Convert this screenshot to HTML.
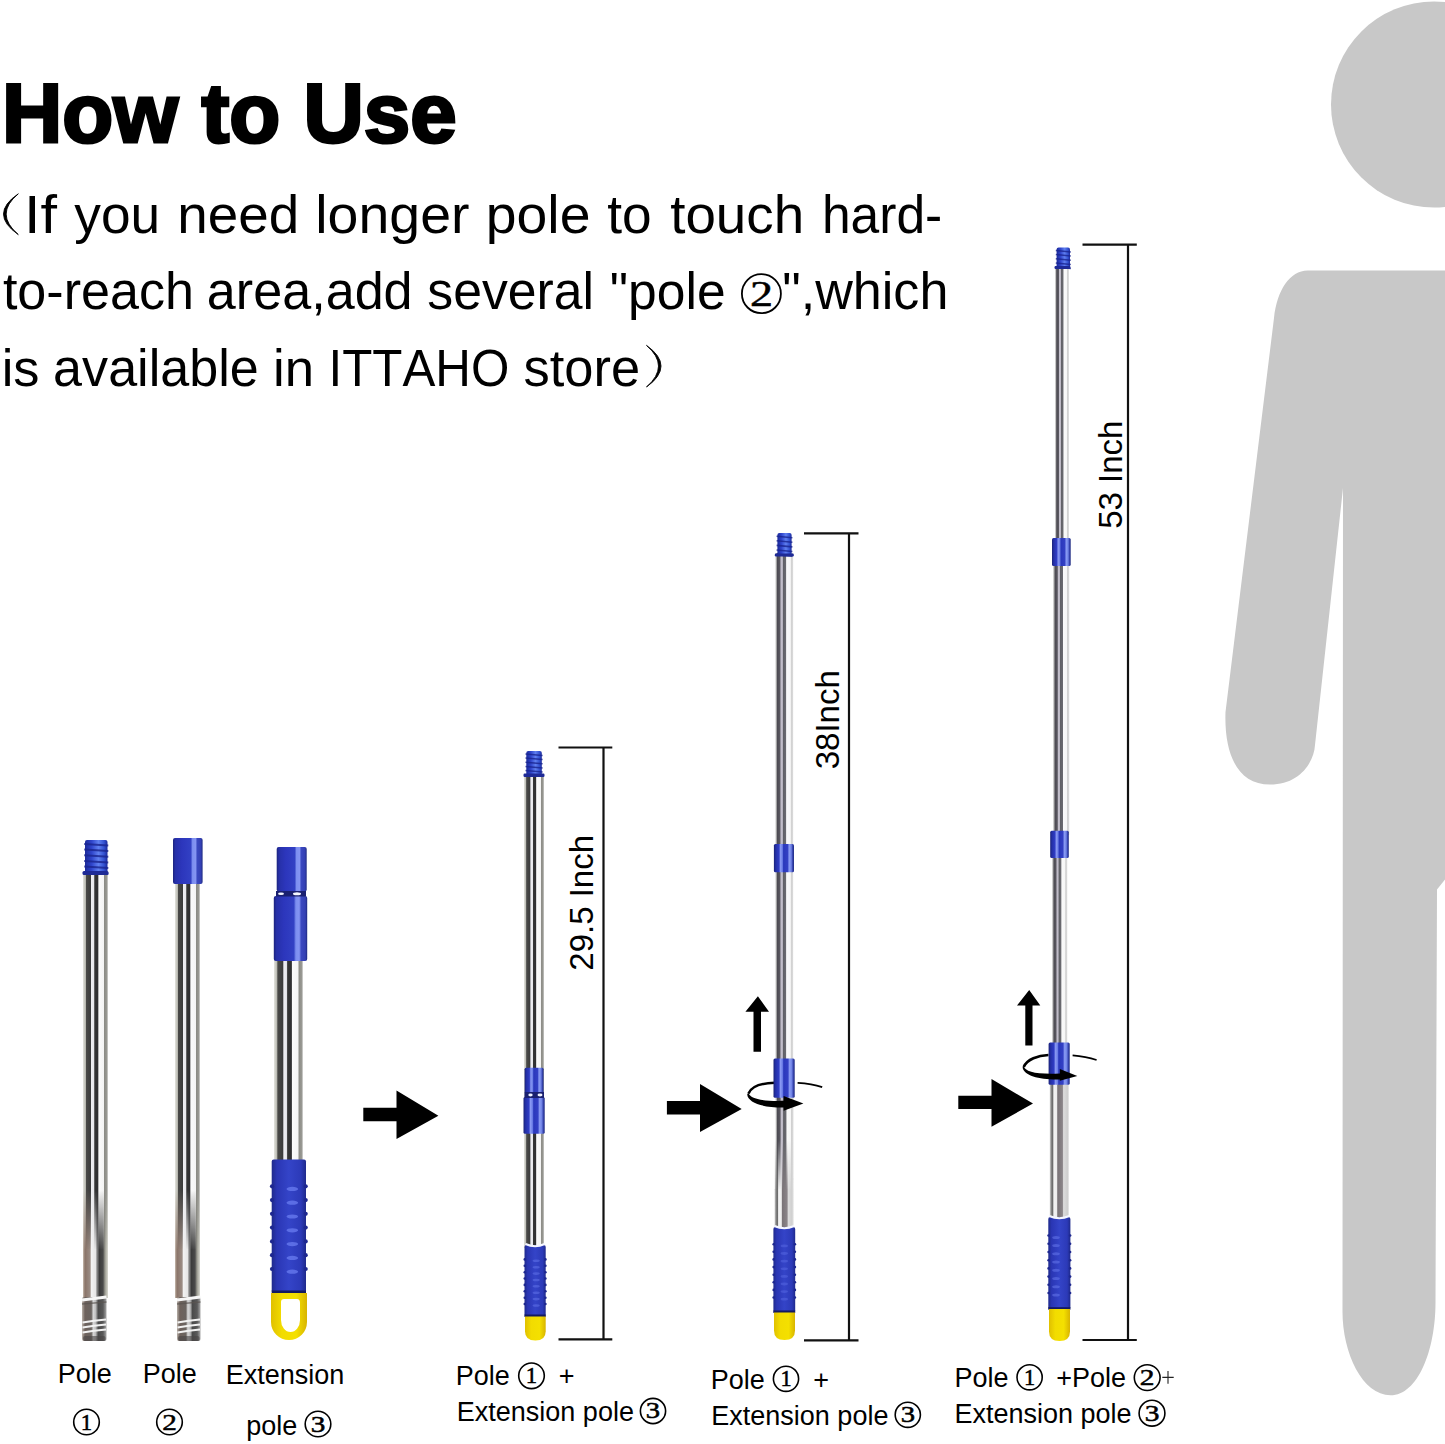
<!DOCTYPE html><html><head><meta charset="utf-8"><title>How to Use</title><style>html,body{margin:0;padding:0;background:#fff;width:1445px;height:1444px;overflow:hidden}svg{display:block}text{font-family:"Liberation Sans",sans-serif;fill:#000;font-kerning:none}</style></head><body>
<svg width="1445" height="1444" viewBox="0 0 1445 1444">
<defs>
<linearGradient id="chrome" x1="0" y1="0" x2="1" y2="0">
<stop offset="0" stop-color="#e4e4de"/><stop offset="0.1" stop-color="#b8b8b0"/>
<stop offset="0.13" stop-color="#4a4a48"/><stop offset="0.3" stop-color="#3c3c3c"/>
<stop offset="0.34" stop-color="#eeeef2"/><stop offset="0.43" stop-color="#e8e8ec"/>
<stop offset="0.47" stop-color="#353535"/><stop offset="0.6" stop-color="#2e2e30"/>
<stop offset="0.63" stop-color="#fbfbfb"/><stop offset="0.83" stop-color="#f4f4f4"/>
<stop offset="0.86" stop-color="#8c8c86"/><stop offset="0.96" stop-color="#9a9a94"/>
<stop offset="1" stop-color="#e6e6e6"/>
</linearGradient>
<linearGradient id="chromeBot" x1="0" y1="0" x2="1" y2="0">
<stop offset="0" stop-color="#c8bcb0"/><stop offset="0.08" stop-color="#8a7468"/>
<stop offset="0.28" stop-color="#9a8c84"/><stop offset="0.34" stop-color="#f2f2f2"/>
<stop offset="0.5" stop-color="#e6e6e6"/><stop offset="0.56" stop-color="#8a8a8a"/>
<stop offset="0.66" stop-color="#3c3c3c"/><stop offset="0.8" stop-color="#4a4a4a"/>
<stop offset="0.88" stop-color="#9a9a90"/><stop offset="1" stop-color="#d8d8d0"/>
</linearGradient>
<linearGradient id="fadeV" x1="0" y1="0" x2="0" y2="1">
<stop offset="0" stop-color="#fff" stop-opacity="0"/><stop offset="1" stop-color="#fff" stop-opacity="1"/>
</linearGradient>
<mask id="mfade" maskContentUnits="objectBoundingBox"><rect x="0" y="0" width="1" height="1" fill="url(#fadeV)"/></mask>
<linearGradient id="chromeEnd" x1="0" y1="0" x2="1" y2="0">
<stop offset="0" stop-color="#b8b0a8"/><stop offset="0.12" stop-color="#6e625c"/>
<stop offset="0.38" stop-color="#6a6460"/><stop offset="0.46" stop-color="#d8d8d8"/>
<stop offset="0.56" stop-color="#bcbcbc"/><stop offset="0.66" stop-color="#4a4a4a"/>
<stop offset="0.86" stop-color="#5a5a5a"/><stop offset="1" stop-color="#a8a8a8"/>
</linearGradient>
<linearGradient id="chromeSoft" x1="0" y1="0" x2="1" y2="0">
<stop offset="0" stop-color="#eeeeee"/><stop offset="0.08" stop-color="#9a9a9a"/>
<stop offset="0.12" stop-color="#4c4a52"/><stop offset="0.26" stop-color="#5a5860"/>
<stop offset="0.32" stop-color="#c4c0cc"/><stop offset="0.4" stop-color="#bcb8c4"/>
<stop offset="0.45" stop-color="#606066"/><stop offset="0.58" stop-color="#6a6a70"/>
<stop offset="0.63" stop-color="#fafafa"/><stop offset="0.84" stop-color="#f6f6f6"/>
<stop offset="0.88" stop-color="#d0d0d0"/><stop offset="0.96" stop-color="#d8d8d8"/>
<stop offset="1" stop-color="#f0f0f0"/>
</linearGradient>
<linearGradient id="chromeLow" x1="0" y1="0" x2="1" y2="0">
<stop offset="0" stop-color="#e8e8e8"/><stop offset="0.08" stop-color="#8a8a8a"/>
<stop offset="0.16" stop-color="#6a6a6a"/><stop offset="0.22" stop-color="#f4f4f4"/>
<stop offset="0.36" stop-color="#eeeeee"/><stop offset="0.42" stop-color="#7a7478"/>
<stop offset="0.66" stop-color="#8a8488"/><stop offset="0.72" stop-color="#dcdcdc"/>
<stop offset="0.92" stop-color="#cfcfcf"/><stop offset="1" stop-color="#ececec"/>
</linearGradient>
<linearGradient id="blue" x1="0" y1="0" x2="1" y2="0">
<stop offset="0" stop-color="#1b2378"/><stop offset="0.1" stop-color="#2430a8"/>
<stop offset="0.25" stop-color="#2f3cc4"/><stop offset="0.33" stop-color="#8898f2"/>
<stop offset="0.42" stop-color="#6d7fe8"/><stop offset="0.48" stop-color="#2a38bc"/>
<stop offset="0.68" stop-color="#3340c4"/><stop offset="0.76" stop-color="#8a9cf4"/>
<stop offset="0.86" stop-color="#7083e6"/><stop offset="0.93" stop-color="#3644b0"/>
<stop offset="1" stop-color="#1e2a7e"/>
</linearGradient>
<linearGradient id="blue1" x1="0" y1="0" x2="1" y2="0">
<stop offset="0" stop-color="#1c247e"/><stop offset="0.08" stop-color="#2630a8"/>
<stop offset="0.3" stop-color="#2c36bc"/><stop offset="0.6" stop-color="#3240c4"/>
<stop offset="0.66" stop-color="#7c8ef0"/><stop offset="0.76" stop-color="#8494f2"/>
<stop offset="0.82" stop-color="#3a48c0"/><stop offset="0.94" stop-color="#3440b4"/>
<stop offset="1" stop-color="#1e2a80"/>
</linearGradient>
<linearGradient id="bluetip" x1="0" y1="0" x2="1" y2="0">
<stop offset="0" stop-color="#1c2a9a"/><stop offset="0.3" stop-color="#2f45cc"/>
<stop offset="0.6" stop-color="#5f7ff0"/><stop offset="0.85" stop-color="#3250d0"/>
<stop offset="1" stop-color="#1c2a9a"/>
</linearGradient>
<linearGradient id="gripg" x1="0" y1="0" x2="1" y2="0">
<stop offset="0" stop-color="#1f2a8c"/><stop offset="0.15" stop-color="#2a36b4"/>
<stop offset="0.5" stop-color="#3444c8"/><stop offset="0.85" stop-color="#2c3ab8"/>
<stop offset="1" stop-color="#1f2a8c"/>
</linearGradient>
<linearGradient id="yel" x1="0" y1="0" x2="1" y2="0">
<stop offset="0" stop-color="#e0c000"/><stop offset="0.3" stop-color="#f2dc00"/>
<stop offset="0.7" stop-color="#f4e000"/><stop offset="1" stop-color="#d8b400"/>
</linearGradient>
</defs>
<text x="0" y="142.2" font-size="84" font-weight="bold" stroke="#000" stroke-width="3.0" stroke-linejoin="miter" stroke-miterlimit="3" transform="translate(8,0) scale(0.994,1) translate(-6,0)">How to Use</text>
<path d="M18.3,193.8 Q-11.3,214 18.3,234.6 Q-6,214 18.3,193.8 Z" fill="#000" stroke="#000" stroke-width="0.9"/>
<text transform="translate(29.4,232.8) scale(1.0894,1)" x="-5.0" y="0" font-size="54.5">If</text>
<text transform="translate(74.4,232.8) scale(0.9772,1)" x="-0.1" y="0" font-size="54.5">you</text>
<text transform="translate(180.8,232.8) scale(1.0061,1)" x="-3.6" y="0" font-size="54.5">need</text>
<text transform="translate(319.0,232.8) scale(1.0182,1)" x="-3.7" y="0" font-size="54.5">longer</text>
<text transform="translate(489.3,232.8) scale(1.0164,1)" x="-3.5" y="0" font-size="54.5">pole</text>
<text transform="translate(608.0,232.8) scale(0.9778,1)" x="-0.8" y="0" font-size="54.5">to</text>
<text transform="translate(671.0,232.8) scale(1.0050,1)" x="-0.8" y="0" font-size="54.5">touch</text>
<text transform="translate(825.5,232.8) scale(0.9461,1)" x="-3.8" y="0" font-size="54.5">hard-</text>
<text transform="translate(3.7,308.6) scale(1.0016,1)" x="-0.8" y="0" font-size="52">to-reach</text>
<text transform="translate(209.0,308.6) scale(1.0029,1)" x="-2.2" y="0" font-size="52">area,add</text>
<text transform="translate(428.7,308.6) scale(0.9951,1)" x="-1.4" y="0" font-size="52">several</text>
<text transform="translate(612.0,308.6) scale(0.9915,1)" x="-2.2" y="0" font-size="52">&quot;pole</text>
<circle cx="761.4" cy="293.7" r="19.5" fill="none" stroke="#000" stroke-width="1.8"/>
<text transform="translate(761.4,305.6) scale(1.28,1)" x="0" y="0" font-size="36.0" text-anchor="middle" stroke="#000" stroke-width="0.5" style="font-family:'Liberation Serif',serif">2</text>
<text transform="translate(784.4,308.6) scale(1.0021,1)" x="-2.2" y="0" font-size="52">&quot;,which</text>
<text transform="translate(5.2,385.5) scale(1.0064,1)" x="-3.5" y="0" font-size="52">is</text>
<text transform="translate(55.3,385.5) scale(1.0023,1)" x="-2.2" y="0" font-size="52">available</text>
<text transform="translate(276.5,385.5) scale(1.0144,1)" x="-3.5" y="0" font-size="52">in</text>
<text transform="translate(333.0,385.5) scale(0.9489,1)" x="-4.8" y="0" font-size="52">ITTAHO</text>
<text transform="translate(525.0,385.5) scale(1.0076,1)" x="-1.4" y="0" font-size="52">store</text>
<path d="M646.5,345.4 Q675.5,366 646.5,387 Q670.5,366 646.5,345.4 Z" fill="#000" stroke="#000" stroke-width="0.9"/>
<g fill="#c8c8c8">
<circle cx="1434" cy="104.5" r="103"/>
<path d="M1307.6,270.5 H1445 V879.6 L1437,889.5 L1435.5,1300 C1436,1350 1418,1395.3 1390.6,1395.3 C1362,1395.3 1342,1352 1342.5,1310 L1343,488 L1315,745 C1314,762 1300,784.6 1270,784.6 C1238,784.6 1224,755 1225.5,712 L1274,318 C1277,290 1290,270.5 1307.6,270.5 Z"/>
</g>
<rect x="83" y="872" width="25.0" height="426.0" fill="url(#chrome)"/>
<rect x="83" y="1190" width="25.0" height="60" fill="url(#chromeBot)" mask="url(#mfade)"/>
<rect x="83" y="1249" width="25.0" height="49" fill="url(#chromeBot)"/>
<rect x="82" y="1297" width="24.5" height="44" rx="2" fill="url(#chromeEnd)"/>
<path d="M82,1300 L106.5,1297" stroke="#f6f6f6" stroke-width="3"/>
<path d="M82,1304 L106.5,1302" stroke="#5a5450" stroke-width="1.5" opacity="0.7"/>
<path d="M82.5,1322.5 Q94.2,1320.5 106.0,1319.5" stroke="#f2f2f2" stroke-width="2" fill="none"/>
<path d="M82.5,1327.5 Q94.2,1325.5 106.0,1324.5" stroke="#f2f2f2" stroke-width="2" fill="none"/>
<path d="M82.5,1332.5 Q94.2,1330.5 106.0,1329.5" stroke="#f2f2f2" stroke-width="2" fill="none"/>
<rect x="83" y="1336" width="22.5" height="5" rx="2" fill="#4a4646" opacity="0.6"/>
<rect x="85" y="840" width="22.5" height="34.0" rx="2" fill="url(#bluetip)"/>
<line x1="84.2" y1="844.0" x2="108.3" y2="845.5" stroke="#1a2590" stroke-width="2.0" opacity="0.8"/>
<line x1="84.2" y1="849.6" x2="108.3" y2="851.1" stroke="#1a2590" stroke-width="2.0" opacity="0.8"/>
<line x1="84.2" y1="855.3" x2="108.3" y2="856.8" stroke="#1a2590" stroke-width="2.0" opacity="0.8"/>
<line x1="84.2" y1="861.0" x2="108.3" y2="862.5" stroke="#1a2590" stroke-width="2.0" opacity="0.8"/>
<line x1="84.2" y1="866.6" x2="108.3" y2="868.1" stroke="#1a2590" stroke-width="2.0" opacity="0.8"/>
<line x1="84.2" y1="872.3" x2="108.3" y2="873.8" stroke="#1a2590" stroke-width="2.0" opacity="0.8"/>
<rect x="82.5" y="871" width="26" height="4" rx="1.5" fill="#1e2a96"/>
<rect x="175" y="882" width="25.0" height="416.0" fill="url(#chrome)"/>
<rect x="175" y="1190" width="25.0" height="60" fill="url(#chromeBot)" mask="url(#mfade)"/>
<rect x="175" y="1249" width="25.0" height="49" fill="url(#chromeBot)"/>
<rect x="177" y="1297" width="23.5" height="44" rx="2" fill="url(#chromeEnd)"/>
<path d="M177,1300 L200.5,1297" stroke="#f6f6f6" stroke-width="3"/>
<path d="M177,1304 L200.5,1302" stroke="#5a5450" stroke-width="1.5" opacity="0.7"/>
<path d="M177.5,1322.5 Q188.8,1320.5 200.0,1319.5" stroke="#f2f2f2" stroke-width="2" fill="none"/>
<path d="M177.5,1327.5 Q188.8,1325.5 200.0,1324.5" stroke="#f2f2f2" stroke-width="2" fill="none"/>
<path d="M177.5,1332.5 Q188.8,1330.5 200.0,1329.5" stroke="#f2f2f2" stroke-width="2" fill="none"/>
<rect x="178" y="1336" width="21.5" height="5" rx="2" fill="#4a4646" opacity="0.6"/>
<rect x="173" y="838" width="29.6" height="46.0" rx="2" fill="url(#blue1)"/>
<rect x="274" y="958" width="29.0" height="204.0" fill="url(#chrome)"/>
<rect x="276.7" y="847" width="30.0" height="44.6" rx="2" fill="url(#blue1)"/>
<rect x="273.8" y="896" width="33.4" height="65.0" rx="2" fill="url(#blue1)"/>
<rect x="276" y="891" width="30" height="5.5" fill="#1a2070"/>
<ellipse cx="281" cy="893.8" rx="3" ry="1.3" fill="#f4f6ff"/><ellipse cx="297" cy="893.8" rx="4" ry="1.5" fill="#f4f6ff"/>
<rect x="271.7" y="1159.6" width="34.3" height="133.4" rx="2" fill="url(#gripg)"/>
<circle cx="272.0" cy="1186.3" r="2.1" fill="#1e2890"/>
<circle cx="305.7" cy="1186.3" r="2.1" fill="#1e2890"/>
<ellipse cx="292.3" cy="1188.9" rx="5.8" ry="2.1" fill="#6a7cf0" opacity="0.75"/>
<circle cx="272.0" cy="1200.1" r="2.1" fill="#1e2890"/>
<circle cx="305.7" cy="1200.1" r="2.1" fill="#1e2890"/>
<ellipse cx="292.3" cy="1202.7" rx="5.8" ry="2.1" fill="#6a7cf0" opacity="0.75"/>
<circle cx="272.0" cy="1213.8" r="2.1" fill="#1e2890"/>
<circle cx="305.7" cy="1213.8" r="2.1" fill="#1e2890"/>
<ellipse cx="292.3" cy="1216.5" rx="5.8" ry="2.1" fill="#6a7cf0" opacity="0.75"/>
<circle cx="272.0" cy="1227.6" r="2.1" fill="#1e2890"/>
<circle cx="305.7" cy="1227.6" r="2.1" fill="#1e2890"/>
<ellipse cx="292.3" cy="1230.3" rx="5.8" ry="2.1" fill="#6a7cf0" opacity="0.75"/>
<circle cx="272.0" cy="1241.4" r="2.1" fill="#1e2890"/>
<circle cx="305.7" cy="1241.4" r="2.1" fill="#1e2890"/>
<ellipse cx="292.3" cy="1244.1" rx="5.8" ry="2.1" fill="#6a7cf0" opacity="0.75"/>
<circle cx="272.0" cy="1255.2" r="2.1" fill="#1e2890"/>
<circle cx="305.7" cy="1255.2" r="2.1" fill="#1e2890"/>
<ellipse cx="292.3" cy="1257.9" rx="5.8" ry="2.1" fill="#6a7cf0" opacity="0.75"/>
<circle cx="272.0" cy="1269.0" r="2.1" fill="#1e2890"/>
<circle cx="305.7" cy="1269.0" r="2.1" fill="#1e2890"/>
<ellipse cx="292.3" cy="1271.7" rx="5.8" ry="2.1" fill="#6a7cf0" opacity="0.75"/>
<rect x="271.7" y="1290.5" width="34.3" height="2.5" fill="#141a60"/>
<path d="M271,1293 H307 V1322 A18,18 0 0 1 271,1322 Z M281,1302 Q281,1299 284,1299 H297 Q300,1299 300,1303 V1320 A9.5,12 0 0 1 281,1320 Z" fill="url(#yel)" fill-rule="evenodd"/>
<path d="M363.3,1107.7 H396.5 V1090.4 L438.4,1115.7 L396.5,1138.9 V1121.2 H363.3 Z" fill="#000"/>
<rect x="524" y="774" width="20.0" height="474.0" fill="url(#chrome)"/>
<rect x="526.3" y="751" width="15.5" height="25.0" rx="2" fill="url(#bluetip)"/>
<line x1="525.5" y1="753.9" x2="542.5999999999999" y2="755.4" stroke="#1a2590" stroke-width="1.5" opacity="0.8"/>
<line x1="525.5" y1="758.1" x2="542.5999999999999" y2="759.6" stroke="#1a2590" stroke-width="1.5" opacity="0.8"/>
<line x1="525.5" y1="762.2" x2="542.5999999999999" y2="763.8" stroke="#1a2590" stroke-width="1.5" opacity="0.8"/>
<line x1="525.5" y1="766.4" x2="542.5999999999999" y2="767.9" stroke="#1a2590" stroke-width="1.5" opacity="0.8"/>
<line x1="525.5" y1="770.6" x2="542.5999999999999" y2="772.1" stroke="#1a2590" stroke-width="1.5" opacity="0.8"/>
<line x1="525.5" y1="774.8" x2="542.5999999999999" y2="776.2" stroke="#1a2590" stroke-width="1.5" opacity="0.8"/>
<rect x="523.5" y="773.5" width="21" height="3.5" rx="1.2" fill="#1e2a96"/>
<rect x="524.6" y="1067.7" width="19.0" height="25.3" rx="1.5" fill="url(#blue)"/>
<rect x="523.5" y="1097" width="21.2" height="36.8" rx="1.5" fill="url(#blue)"/>
<rect x="524.5" y="1092" width="19.5" height="6" fill="#1a2070"/>
<ellipse cx="530.5" cy="1095" rx="2.2" ry="1.4" fill="#f0f4ff"/><ellipse cx="540" cy="1095" rx="2.5" ry="1.4" fill="#f0f4ff"/>
<rect x="524.5" y="1245" width="21.2" height="72.0" rx="2" fill="url(#gripg)"/>
<circle cx="524.8" cy="1259.4" r="1.3" fill="#1e2890"/>
<circle cx="545.4" cy="1259.4" r="1.3" fill="#1e2890"/>
<ellipse cx="536.2" cy="1260.8" rx="3.6" ry="1.3" fill="#6a7cf0" opacity="0.45"/>
<circle cx="524.8" cy="1265.8" r="1.3" fill="#1e2890"/>
<circle cx="545.4" cy="1265.8" r="1.3" fill="#1e2890"/>
<ellipse cx="536.2" cy="1267.2" rx="3.6" ry="1.3" fill="#6a7cf0" opacity="0.45"/>
<circle cx="524.8" cy="1272.2" r="1.3" fill="#1e2890"/>
<circle cx="545.4" cy="1272.2" r="1.3" fill="#1e2890"/>
<ellipse cx="536.2" cy="1273.6" rx="3.6" ry="1.3" fill="#6a7cf0" opacity="0.45"/>
<circle cx="524.8" cy="1278.5" r="1.3" fill="#1e2890"/>
<circle cx="545.4" cy="1278.5" r="1.3" fill="#1e2890"/>
<ellipse cx="536.2" cy="1280.0" rx="3.6" ry="1.3" fill="#6a7cf0" opacity="0.45"/>
<circle cx="524.8" cy="1284.9" r="1.3" fill="#1e2890"/>
<circle cx="545.4" cy="1284.9" r="1.3" fill="#1e2890"/>
<ellipse cx="536.2" cy="1286.3" rx="3.6" ry="1.3" fill="#6a7cf0" opacity="0.45"/>
<circle cx="524.8" cy="1291.3" r="1.3" fill="#1e2890"/>
<circle cx="545.4" cy="1291.3" r="1.3" fill="#1e2890"/>
<ellipse cx="536.2" cy="1292.7" rx="3.6" ry="1.3" fill="#6a7cf0" opacity="0.45"/>
<circle cx="524.8" cy="1297.7" r="1.3" fill="#1e2890"/>
<circle cx="545.4" cy="1297.7" r="1.3" fill="#1e2890"/>
<ellipse cx="536.2" cy="1299.1" rx="3.6" ry="1.3" fill="#6a7cf0" opacity="0.45"/>
<circle cx="524.8" cy="1304.0" r="1.3" fill="#1e2890"/>
<circle cx="545.4" cy="1304.0" r="1.3" fill="#1e2890"/>
<ellipse cx="536.2" cy="1305.5" rx="3.6" ry="1.3" fill="#6a7cf0" opacity="0.45"/>
<rect x="524.5" y="1314.5" width="21.2" height="2.5" fill="#141a60"/>
<path d="M525.5,1244.0 Q535.1,1248.5 544.7,1244.0" stroke="#f4f6ff" stroke-width="2" fill="none"/>
<path d="M525,1316.5 H545.7 V1331.2 Q545.7,1340.5 535.4,1340.5 Q525,1340.5 525,1331.2 Z" fill="url(#yel)"/>
<path d="M558.5,747.5 H612.3 M603.5,747.5 V1339.3 M558.5,1339.3 H612.3" stroke="#111" stroke-width="2.2" fill="none"/>
<text transform="translate(593.3,970.7) rotate(-90)" font-size="33">29.5 Inch</text>
<path d="M666.9,1101 H700 V1084 L741.7,1109 L700,1132 V1114.6 H666.9 Z" fill="#000"/>
<rect x="775.2" y="553" width="18.1" height="547.0" fill="url(#chromeSoft)"/>
<rect x="775.3" y="1096" width="18.4" height="84.0" fill="url(#chromeSoft)"/>
<rect x="775.3" y="1178" width="18.4" height="52.0" fill="url(#chromeSoft)"/>
<rect x="774.4" y="1140" width="19.2" height="50" fill="url(#chromeLow)" mask="url(#mfade)"/>
<rect x="774.4" y="1189" width="19.2" height="41.0" fill="url(#chromeLow)"/>
<rect x="777.4" y="533" width="14.2" height="23.0" rx="2" fill="url(#bluetip)"/>
<line x1="776.6" y1="536.2" x2="792.4" y2="537.7" stroke="#1a2590" stroke-width="1.6" opacity="0.8"/>
<line x1="776.6" y1="540.8" x2="792.4" y2="542.3" stroke="#1a2590" stroke-width="1.6" opacity="0.8"/>
<line x1="776.6" y1="545.4" x2="792.4" y2="546.9" stroke="#1a2590" stroke-width="1.6" opacity="0.8"/>
<line x1="776.6" y1="550.0" x2="792.4" y2="551.5" stroke="#1a2590" stroke-width="1.6" opacity="0.8"/>
<line x1="776.6" y1="554.6" x2="792.4" y2="556.1" stroke="#1a2590" stroke-width="1.6" opacity="0.8"/>
<rect x="774.8" y="553.5" width="19" height="3" rx="1.2" fill="#1e2a96"/>
<rect x="773.9" y="843.9" width="20.1" height="28.4" rx="1.5" fill="url(#blue)"/>
<path d="M753.5,1051.7 V1011.8 H745.4 L757.9,996.2 L769,1011.8 H761 V1051.7 Z" fill="#000"/>
<path d="M748.5,1093.5 C752,1085 765,1083 775,1082.8" stroke="#000" stroke-width="2.6" fill="none"/>
<rect x="773.5" y="1058.5" width="21.2" height="39.3" rx="1.5" fill="url(#blue)"/>
<path d="M797.6,1082.8 Q812,1083.5 822.2,1087.1" stroke="#000" stroke-width="1.7" fill="none"/>
<path d="M748.3,1092.5 C750,1099 762,1101.5 785,1100.8 L785,1107.5 C764,1108 748,1103 747.2,1094.5 Z" fill="#000"/>
<path d="M783.6,1096 L803.4,1103.4 L783.6,1110.8 Z" fill="#000"/>
<rect x="773.4" y="1227" width="21.8" height="86.0" rx="2" fill="url(#gripg)"/>
<circle cx="773.7" cy="1244.2" r="1.3" fill="#1e2890"/>
<circle cx="794.9" cy="1244.2" r="1.3" fill="#1e2890"/>
<ellipse cx="784.3" cy="1245.9" rx="3.7" ry="1.4" fill="#6a7cf0" opacity="0.35"/>
<circle cx="773.7" cy="1251.8" r="1.3" fill="#1e2890"/>
<circle cx="794.9" cy="1251.8" r="1.3" fill="#1e2890"/>
<ellipse cx="784.3" cy="1253.5" rx="3.7" ry="1.4" fill="#6a7cf0" opacity="0.35"/>
<circle cx="773.7" cy="1259.4" r="1.3" fill="#1e2890"/>
<circle cx="794.9" cy="1259.4" r="1.3" fill="#1e2890"/>
<ellipse cx="784.3" cy="1261.2" rx="3.7" ry="1.4" fill="#6a7cf0" opacity="0.35"/>
<circle cx="773.7" cy="1267.1" r="1.3" fill="#1e2890"/>
<circle cx="794.9" cy="1267.1" r="1.3" fill="#1e2890"/>
<ellipse cx="784.3" cy="1268.8" rx="3.7" ry="1.4" fill="#6a7cf0" opacity="0.35"/>
<circle cx="773.7" cy="1274.7" r="1.3" fill="#1e2890"/>
<circle cx="794.9" cy="1274.7" r="1.3" fill="#1e2890"/>
<ellipse cx="784.3" cy="1276.4" rx="3.7" ry="1.4" fill="#6a7cf0" opacity="0.35"/>
<circle cx="773.7" cy="1282.3" r="1.3" fill="#1e2890"/>
<circle cx="794.9" cy="1282.3" r="1.3" fill="#1e2890"/>
<ellipse cx="784.3" cy="1284.0" rx="3.7" ry="1.4" fill="#6a7cf0" opacity="0.35"/>
<circle cx="773.7" cy="1289.9" r="1.3" fill="#1e2890"/>
<circle cx="794.9" cy="1289.9" r="1.3" fill="#1e2890"/>
<ellipse cx="784.3" cy="1291.6" rx="3.7" ry="1.4" fill="#6a7cf0" opacity="0.35"/>
<circle cx="773.7" cy="1297.5" r="1.3" fill="#1e2890"/>
<circle cx="794.9" cy="1297.5" r="1.3" fill="#1e2890"/>
<ellipse cx="784.3" cy="1299.2" rx="3.7" ry="1.4" fill="#6a7cf0" opacity="0.35"/>
<rect x="773.4" y="1310.5" width="21.8" height="2.5" fill="#141a60"/>
<path d="M774.4,1226.0 Q784.3,1230.5 794.2,1226.0" stroke="#f4f6ff" stroke-width="2" fill="none"/>
<path d="M774,1312.5 H795 V1330.5 Q795,1340 784.5,1340 Q774,1340 774,1330.5 Z" fill="url(#yel)"/>
<path d="M804,533.3 H858.5 M849,533.3 V1340.3 M804,1340.3 H858.5" stroke="#111" stroke-width="2.2" fill="none"/>
<text transform="translate(839,769.3) rotate(-90)" font-size="33">38Inch</text>
<path d="M958.3,1095.8 H991.5 V1079 L1033,1103.5 L991.5,1126.8 V1109 H958.3 Z" fill="#000"/>
<rect x="1055" y="266" width="14.0" height="274.0" fill="url(#chromeSoft)"/>
<rect x="1053" y="560" width="16.5" height="275.0" fill="url(#chromeSoft)"/>
<rect x="1052" y="850" width="15.5" height="240.0" fill="url(#chromeSoft)"/>
<rect x="1049.6" y="1080" width="19.4" height="140.0" fill="url(#chromeLow)"/>
<rect x="1056.6" y="247.5" width="13.4" height="20.8" rx="2" fill="url(#bluetip)"/>
<line x1="1055.8" y1="250.4" x2="1070.8" y2="251.9" stroke="#1a2590" stroke-width="1.5" opacity="0.8"/>
<line x1="1055.8" y1="254.6" x2="1070.8" y2="256.1" stroke="#1a2590" stroke-width="1.5" opacity="0.8"/>
<line x1="1055.8" y1="258.7" x2="1070.8" y2="260.2" stroke="#1a2590" stroke-width="1.5" opacity="0.8"/>
<line x1="1055.8" y1="262.9" x2="1070.8" y2="264.4" stroke="#1a2590" stroke-width="1.5" opacity="0.8"/>
<line x1="1055.8" y1="267.1" x2="1070.8" y2="268.6" stroke="#1a2590" stroke-width="1.5" opacity="0.8"/>
<rect x="1054.5" y="266" width="16" height="3" rx="1.2" fill="#1e2a96"/>
<rect x="1052" y="537.9" width="18.7" height="28.1" rx="1.5" fill="url(#blue)"/>
<rect x="1050.2" y="830.7" width="18.6" height="27.2" rx="1.5" fill="url(#blue)"/>
<path d="M1025.3,1045.4 V1005.5 H1017 L1029.2,990 L1040.3,1005.5 H1032.5 V1045.4 Z" fill="#000"/>
<path d="M1023.7,1067 C1027,1059 1038,1055.5 1048.5,1055" stroke="#000" stroke-width="2.6" fill="none"/>
<rect x="1048.6" y="1042.6" width="21.1" height="42.1" rx="1.5" fill="url(#blue)"/>
<path d="M1072.6,1055.3 Q1086,1056.5 1096.6,1060" stroke="#000" stroke-width="1.7" fill="none"/>
<path d="M1023.5,1066 C1025,1072 1037,1074.5 1060,1073.5 L1060,1079.5 C1040,1080 1024,1076 1022.6,1067.5 Z" fill="#000"/>
<path d="M1059.8,1069 L1077.3,1076 L1059.8,1080.8 Z" fill="#000"/>
<rect x="1048.3" y="1217" width="22.1" height="92.7" rx="2" fill="url(#gripg)"/>
<circle cx="1048.6" cy="1235.5" r="1.3" fill="#1e2890"/>
<circle cx="1070.1" cy="1235.5" r="1.3" fill="#1e2890"/>
<ellipse cx="1056.0" cy="1237.4" rx="3.8" ry="1.5" fill="#6a7cf0" opacity="0.5"/>
<circle cx="1048.6" cy="1243.8" r="1.3" fill="#1e2890"/>
<circle cx="1070.1" cy="1243.8" r="1.3" fill="#1e2890"/>
<ellipse cx="1056.0" cy="1245.6" rx="3.8" ry="1.5" fill="#6a7cf0" opacity="0.5"/>
<circle cx="1048.6" cy="1252.0" r="1.3" fill="#1e2890"/>
<circle cx="1070.1" cy="1252.0" r="1.3" fill="#1e2890"/>
<ellipse cx="1056.0" cy="1253.8" rx="3.8" ry="1.5" fill="#6a7cf0" opacity="0.5"/>
<circle cx="1048.6" cy="1260.2" r="1.3" fill="#1e2890"/>
<circle cx="1070.1" cy="1260.2" r="1.3" fill="#1e2890"/>
<ellipse cx="1056.0" cy="1262.0" rx="3.8" ry="1.5" fill="#6a7cf0" opacity="0.5"/>
<circle cx="1048.6" cy="1268.4" r="1.3" fill="#1e2890"/>
<circle cx="1070.1" cy="1268.4" r="1.3" fill="#1e2890"/>
<ellipse cx="1056.0" cy="1270.2" rx="3.8" ry="1.5" fill="#6a7cf0" opacity="0.5"/>
<circle cx="1048.6" cy="1276.6" r="1.3" fill="#1e2890"/>
<circle cx="1070.1" cy="1276.6" r="1.3" fill="#1e2890"/>
<ellipse cx="1056.0" cy="1278.4" rx="3.8" ry="1.5" fill="#6a7cf0" opacity="0.5"/>
<circle cx="1048.6" cy="1284.8" r="1.3" fill="#1e2890"/>
<circle cx="1070.1" cy="1284.8" r="1.3" fill="#1e2890"/>
<ellipse cx="1056.0" cy="1286.7" rx="3.8" ry="1.5" fill="#6a7cf0" opacity="0.5"/>
<circle cx="1048.6" cy="1293.0" r="1.3" fill="#1e2890"/>
<circle cx="1070.1" cy="1293.0" r="1.3" fill="#1e2890"/>
<ellipse cx="1056.0" cy="1294.9" rx="3.8" ry="1.5" fill="#6a7cf0" opacity="0.5"/>
<rect x="1048.3" y="1307.2" width="22.1" height="2.5" fill="#141a60"/>
<path d="M1049.3,1216.0 Q1059.3,1220.5 1069.4,1216.0" stroke="#f4f6ff" stroke-width="2" fill="none"/>
<path d="M1049,1309 H1070 V1331.5 Q1070,1341 1059.5,1341 Q1049,1341 1049,1331.5 Z" fill="url(#yel)"/>
<path d="M1082.5,244.6 H1136.8 M1128,244.6 V1340 M1082.5,1340 H1136.8" stroke="#111" stroke-width="2.2" fill="none"/>
<text transform="translate(1122.3,528.8) rotate(-90)" font-size="33">53 Inch</text>
<text x="57.8" y="1383.2" font-size="27">Pole</text>
<text x="142.8" y="1383.2" font-size="27">Pole</text>
<text x="225.8" y="1384.3" font-size="27">Extension</text>
<circle cx="86.5" cy="1422" r="12.8" fill="none" stroke="#000" stroke-width="1.6"/>
<text transform="translate(86.5,1429.5) scale(1.0,1)" x="0" y="0" font-size="22.8" text-anchor="middle" stroke="#000" stroke-width="0.5" style="font-family:'Liberation Serif',serif">1</text>
<circle cx="169.5" cy="1422" r="12.8" fill="none" stroke="#000" stroke-width="1.6"/>
<text transform="translate(169.5,1429.5) scale(1.28,1)" x="0" y="0" font-size="22.8" text-anchor="middle" stroke="#000" stroke-width="0.5" style="font-family:'Liberation Serif',serif">2</text>
<text x="246.3" y="1435.0" font-size="27">pole</text>
<circle cx="318" cy="1424" r="12.8" fill="none" stroke="#000" stroke-width="1.6"/>
<text transform="translate(318,1431.5) scale(1.28,1)" x="0" y="0" font-size="22.8" text-anchor="middle" stroke="#000" stroke-width="0.5" style="font-family:'Liberation Serif',serif">3</text>
<text x="455.8" y="1385.0" font-size="27">Pole</text>
<circle cx="531.5" cy="1375.8" r="12.8" fill="none" stroke="#000" stroke-width="1.6"/>
<text transform="translate(531.5,1383.3) scale(1.0,1)" x="0" y="0" font-size="22.8" text-anchor="middle" stroke="#000" stroke-width="0.5" style="font-family:'Liberation Serif',serif">1</text>
<text x="558.7" y="1385.0" font-size="27">+</text>
<text x="456.8" y="1421.0" font-size="27">Extension pole</text>
<circle cx="653" cy="1411" r="12.6" fill="none" stroke="#000" stroke-width="1.6"/>
<text transform="translate(653,1418.4) scale(1.28,1)" x="0" y="0" font-size="22.4" text-anchor="middle" stroke="#000" stroke-width="0.5" style="font-family:'Liberation Serif',serif">3</text>
<text x="710.8" y="1388.7" font-size="27">Pole</text>
<circle cx="786" cy="1378.8" r="12.6" fill="none" stroke="#000" stroke-width="1.6"/>
<text transform="translate(786,1386.2) scale(1.0,1)" x="0" y="0" font-size="22.4" text-anchor="middle" stroke="#000" stroke-width="0.5" style="font-family:'Liberation Serif',serif">1</text>
<text x="813.2" y="1388.7" font-size="27">+</text>
<text x="711.3" y="1424.7" font-size="27">Extension pole</text>
<circle cx="907.8" cy="1414.8" r="12.6" fill="none" stroke="#000" stroke-width="1.6"/>
<text transform="translate(907.8,1422.2) scale(1.28,1)" x="0" y="0" font-size="22.4" text-anchor="middle" stroke="#000" stroke-width="0.5" style="font-family:'Liberation Serif',serif">3</text>
<text x="954.5" y="1386.9" font-size="27">Pole</text>
<circle cx="1029.6" cy="1377.3" r="12.6" fill="none" stroke="#000" stroke-width="1.6"/>
<text transform="translate(1029.6,1384.7) scale(1.0,1)" x="0" y="0" font-size="22.4" text-anchor="middle" stroke="#000" stroke-width="0.5" style="font-family:'Liberation Serif',serif">1</text>
<text x="1056.3" y="1387.3" font-size="27">+</text>
<text x="1072.1" y="1387.3" font-size="27">Pole</text>
<circle cx="1147.2" cy="1377.6" r="12.9" fill="none" stroke="#000" stroke-width="1.6"/>
<text transform="translate(1147.2,1385.2) scale(1.28,1)" x="0" y="0" font-size="23.0" text-anchor="middle" stroke="#000" stroke-width="0.5" style="font-family:'Liberation Serif',serif">2</text>
<path d="M1162.3,1377.4 H1173.7 M1168,1371 V1383.7" stroke="#222" stroke-width="1.1"/>
<text x="954.5" y="1422.9" font-size="27">Extension pole</text>
<circle cx="1152" cy="1413.2" r="12.9" fill="none" stroke="#000" stroke-width="1.6"/>
<text transform="translate(1152,1420.8) scale(1.28,1)" x="0" y="0" font-size="23.0" text-anchor="middle" stroke="#000" stroke-width="0.5" style="font-family:'Liberation Serif',serif">3</text>
</svg></body></html>
